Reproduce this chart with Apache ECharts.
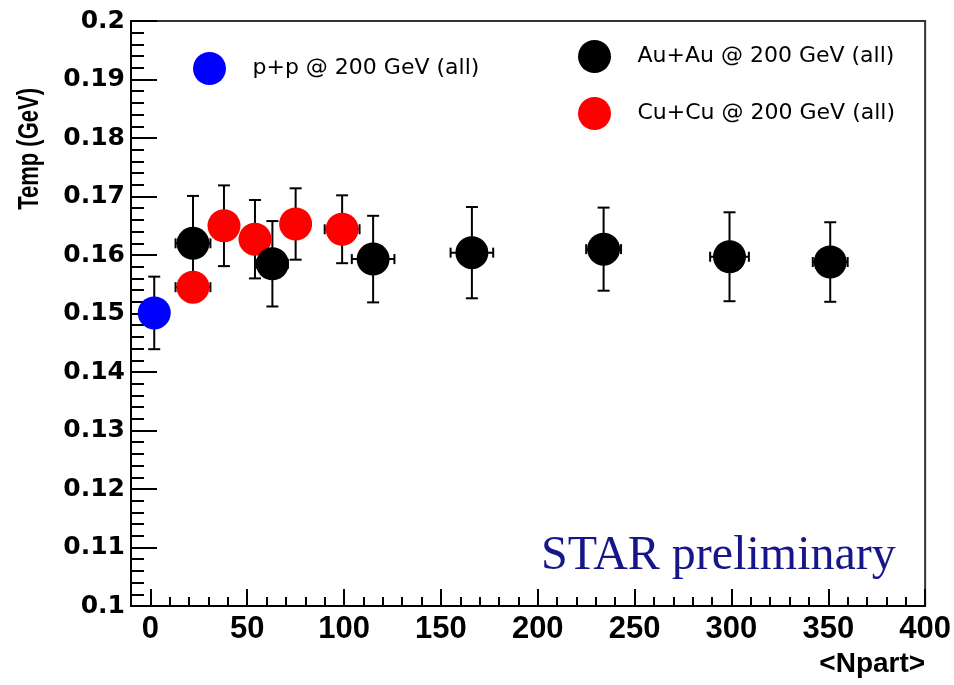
<!DOCTYPE html>
<html>
<head>
<meta charset="utf-8">
<script src="https://cdn.jsdelivr.net/npm/echarts@6/dist/echarts.min.js"></script>
<style>
html,body{margin:0;padding:0;background:#fff}
#chart{width:954px;height:685px}
</style>
</head>
<body>
<div id="chart"></div>
<script>
// p+p
const ppNpart = [2];
const ppTemp = [0.1501];
const ppTempErr = [0.0062];
const ppNpartErr = [0];

// Au+Au
const auNpart = [22, 63, 115, 166, 234, 299, 351];
const auTemp = [0.1620, 0.1585, 0.1593, 0.1604, 0.1610, 0.1597, 0.1588];
const auTempErr = [0.0081, 0.0073, 0.0074, 0.0078, 0.0071, 0.0076, 0.0068];
const auNpartErr = [9, 8, 11, 11, 9, 10, 9];

// Cu+Cu
const cuNpart = [22, 38, 54, 75, 99];
const cuTemp = [0.1545, 0.1650, 0.1627, 0.1653, 0.1644];
const cuTempErr = [0.0024, 0.0069, 0.0067, 0.0061, 0.0058];
const cuNpartErr = [9, 6, 6, 6, 9];

const xMajorTicks = [0, 50, 100, 150, 200, 250, 300, 350, 400];
const xMinorTicks = [10, 20, 30, 40, 60, 70, 80, 90, 110, 120, 130, 140, 160, 170, 180, 190,
  210, 220, 230, 240, 260, 270, 280, 290, 310, 320, 330, 340, 360, 370, 380, 390];

const PP_NAME = 'p+p @ 200 GeV (all)';
const AU_NAME = 'Au+Au @ 200 GeV (all)';
const CU_NAME = 'Cu+Cu @ 200 GeV (all)';

// 误差棒
function errorSeries(name, xs, ys, yerr, xerr){
	return {
		type: 'custom',
		name: name,
		z: 1,
		silent: true,
		clip: false,
		data: xs.map(function(x, i){ return [x, ys[i], yerr[i], xerr[i]]; }),
		encode: {x: 0, y: 1},
		renderItem: function(params, api){
			let x = api.value(0), y = api.value(1), ey = api.value(2), ex = api.value(3);
			let c = api.coord([x, y]);
			let top = api.coord([x, y + ey]);
			let bot = api.coord([x, y - ey]);
			let st = {stroke: '#000', lineWidth: 2};
			let children = [
				{type: 'line', shape: {x1: c[0], y1: top[1], x2: c[0], y2: bot[1]}, style: st},
				{type: 'line', shape: {x1: c[0] - 6, y1: top[1], x2: c[0] + 6, y2: top[1]}, style: st},
				{type: 'line', shape: {x1: c[0] - 6, y1: bot[1], x2: c[0] + 6, y2: bot[1]}, style: st}
			];
			if(ex > 0){
				let l = api.coord([x - ex, y]);
				let r = api.coord([x + ex, y]);
				children.push({type: 'line', shape: {x1: l[0], y1: c[1], x2: r[0], y2: c[1]}, style: st});
				children.push({type: 'line', shape: {x1: l[0], y1: c[1] - 5, x2: l[0], y2: c[1] + 5}, style: st});
				children.push({type: 'line', shape: {x1: r[0], y1: c[1] - 5, x2: r[0], y2: c[1] + 5}, style: st});
			}
			return {type: 'group', children: children};
		}
	};
}

function pointSeries(name, xs, ys, color){
	return {
		type: 'scatter',
		name: name,
		z: 2,
		symbol: 'circle',
		symbolSize: 33,
		itemStyle: {color: color, opacity: 1},
		data: xs.map(function(x, i){ return [x, ys[i]]; })
	};
}

function legendAt(name, left, top){
	return {
		data: [name],
		left: left,
		top: top,
		icon: 'circle',
		itemWidth: 76,
		itemHeight: 33,
		selectedMode: false,
		textStyle: {fontFamily: 'DejaVu Sans', fontSize: 22, color: '#000'}
	};
}

let chart = echarts.init(document.getElementById('chart'), null, {renderer: 'canvas'});
chart.setOption({
	backgroundColor: '#fff',
	animation: false,
	grid: {left: 131, top: 21, right: 27, bottom: 79, show: true, borderColor: '#333', borderWidth: 2},
	legend: [
		legendAt(PP_NAME, 188, 47),
		legendAt(AU_NAME, 573, 35),
		legendAt(CU_NAME, 573, 92)
	],
	xAxis: [{
		type: 'value', min: -10, max: 400,
		name: '<Npart>', nameLocation: 'end', nameGap: 0,
		nameTextStyle: {fontFamily: 'Liberation Sans', fontWeight: 'bold', fontSize: 28, color: '#000',
			align: 'right', verticalAlign: 'top', padding: [44, 0, 0, 0]},
		splitLine: {show: false},
		axisLine: {onZero: false, lineStyle: {color: '#000', width: 2}},
		axisTick: {inside: true, length: 17, lineStyle: {color: '#000', width: 2}, customValues: xMajorTicks},
		axisLabel: {customValues: xMajorTicks, margin: 8, fontFamily: 'Liberation Sans', fontWeight: 'bold', fontSize: 31, color: '#000'}
	}, {
		type: 'value', min: -10, max: 400, position: 'bottom',
		splitLine: {show: false},
		axisLine: {show: false, onZero: false},
		axisTick: {inside: true, length: 9, lineStyle: {color: '#000', width: 2}, customValues: xMinorTicks},
		axisLabel: {show: false}
	}],
	yAxis: {
		type: 'value', min: 0.1, max: 0.2, interval: 0.01,
		splitLine: {show: false},
		axisLine: {onZero: false, lineStyle: {color: '#000', width: 2}},
		axisTick: {inside: true, length: 26, lineStyle: {color: '#000', width: 2}},
		minorTick: {show: true, splitNumber: 5, length: 13, lineStyle: {color: '#000', width: 2}},
		axisLabel: {
			margin: 6, fontFamily: 'DejaVu Sans', fontWeight: 'bold', fontSize: 25, color: '#000',
			formatter: function(v){ return String(+v.toFixed(2)); }
		}
	},
	graphic: [{
		type: 'text', x: 30, y: 88, rotation: Math.PI / 2, scaleY: 1.35,
		style: {text: 'Temp (GeV)', fontFamily: 'Liberation Sans', fontWeight: 'bold', fontSize: 22,
			fill: '#000', align: 'right', verticalAlign: 'middle'}
	}, {
		type: 'text', x: 541, y: 556,
		style: {text: 'STAR preliminary', fontFamily: 'Liberation Serif', fontSize: 48,
			fill: '#16168a', align: 'left', verticalAlign: 'middle'}
	}],
	series: [
		errorSeries('cu-err', cuNpart, cuTemp, cuTempErr, cuNpartErr),
		pointSeries(CU_NAME, cuNpart, cuTemp, '#ff0000'),
		errorSeries('au-err', auNpart, auTemp, auTempErr, auNpartErr),
		pointSeries(AU_NAME, auNpart, auTemp, '#000000'),
		errorSeries('pp-err', ppNpart, ppTemp, ppTempErr, ppNpartErr),
		pointSeries(PP_NAME, ppNpart, ppTemp, '#0000ff')
	]
});
</script>
</body>
</html>
